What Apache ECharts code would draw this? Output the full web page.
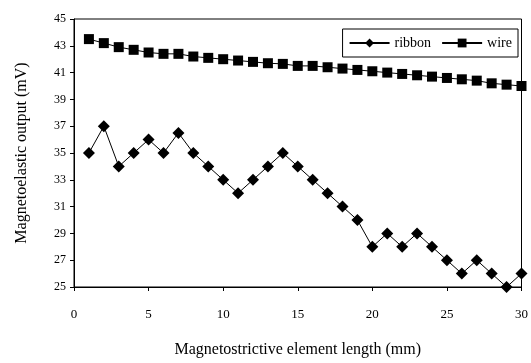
<!DOCTYPE html>
<html>
<head>
<meta charset="utf-8">
<script src="https://cdn.jsdelivr.net/npm/echarts@6/dist/echarts.min.js"></script>
<style>
  html, body { margin: 0; padding: 0; background: #fff; }
  #chart { width: 531px; height: 363px; }
</style>
</head>
<body>
<div id="chart"></div>
<script>
// element length (mm)
var lengths = [1, 2, 3, 4, 5, 6, 7, 8, 9, 10, 11, 12, 13, 14, 15, 16, 17, 18, 19, 20, 21, 22, 23, 24, 25, 26, 27, 28, 29, 30]
// output (mV)
var ribbon = [35, 37, 34, 35, 36, 35, 36.5, 35, 34, 33, 32, 33, 34, 35, 34, 33, 32, 31, 30, 28, 29, 28, 29, 28, 27, 26, 27, 26, 25, 26]
var wire = [43.5, 43.2, 42.9, 42.7, 42.5, 42.4, 42.4, 42.2, 42.1, 42.0, 41.9, 41.8, 41.7, 41.65, 41.5, 41.5, 41.4, 41.3, 41.2, 41.1, 41.0, 40.9, 40.8, 40.7, 40.6, 40.5, 40.4, 40.2, 40.1, 40.0]

var serif = 'Liberation Serif'

function pairs(vals) {
  return lengths.map(function (x, i) { return [x, vals[i]] })
}

var chart = echarts.init(document.getElementById('chart'))
chart.setOption({
  animation: false,
  grid: {
    left: 74, right: 9, top: 19, bottom: 74,
    show: true, borderColor: '#000', borderWidth: 1
  },
  legend: {
    right: 13, top: 29,
    itemGap: 10,
    itemWidth: 40, itemHeight: 11,
    padding: [7, 6, 7, 6],
    borderColor: '#000', borderWidth: 1,
    textStyle: { fontFamily: serif, fontSize: 14, color: '#000' },
    data: ['ribbon', 'wire']
  },
  xAxis: {
    type: 'value', min: 0, max: 30, interval: 5,
    name: 'Magnetostrictive element length (mm)',
    nameLocation: 'middle', nameGap: 55,
    nameTextStyle: { fontFamily: serif, fontSize: 16, color: '#000' },
    axisLine: { lineStyle: { color: '#000' } },
    axisTick: { lineStyle: { color: '#000' }, length: 4 },
    axisLabel: { fontFamily: serif, fontSize: 13, color: '#000', margin: 21 },
    splitLine: { show: false }
  },
  yAxis: {
    type: 'value', min: 25, max: 45, interval: 2,
    name: 'Magnetoelastic output (mV)',
    nameLocation: 'middle', nameGap: 44,
    nameTextStyle: { fontFamily: serif, fontSize: 16, color: '#000' },
    axisLine: { show: true, lineStyle: { color: '#000' } },
    axisTick: { show: true, lineStyle: { color: '#000' }, length: 4 },
    axisLabel: { fontFamily: serif, fontSize: 12, color: '#000', margin: 8 },
    splitLine: { show: false }
  },
  series: [
    {
      name: 'ribbon', type: 'line',
      data: pairs(ribbon),
      symbol: 'diamond', symbolSize: 12,
      lineStyle: { color: '#000', width: 1 },
      itemStyle: { color: '#000' }
    },
    {
      name: 'wire', type: 'line',
      data: pairs(wire),
      symbol: 'rect', symbolSize: 10,
      lineStyle: { color: '#000', width: 1 },
      itemStyle: { color: '#000' }
    }
  ]
})
</script>
</body>
</html>
